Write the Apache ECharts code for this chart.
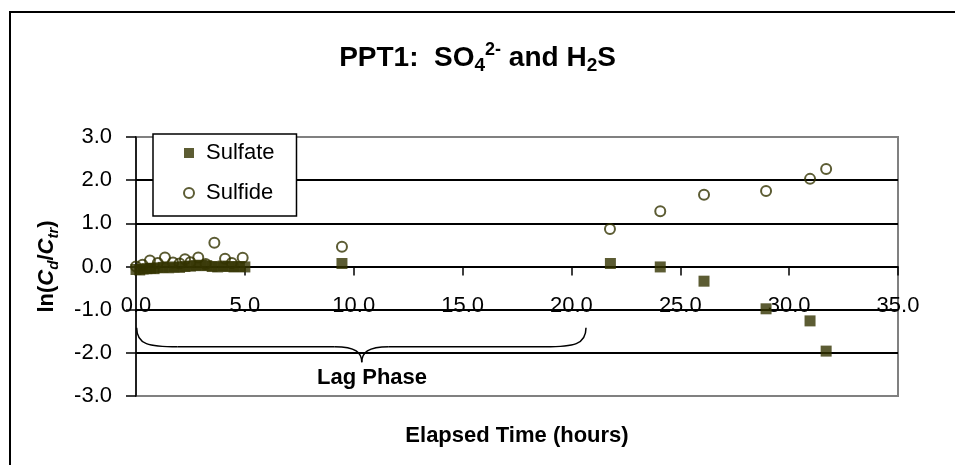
<!DOCTYPE html>
<html>
<head>
<meta charset="utf-8">
<title>PPT1: SO4 and H2S</title>
<script src="https://cdn.jsdelivr.net/npm/echarts@6/dist/echarts.min.js"></script>
<style>
  html, body { margin: 0; padding: 0; background: #fff; }
  #chart { width: 955px; height: 465px; }
</style>
</head>
<body>
<div id="chart"></div>
<script>
// Elapsed time (hours) and ln(Cd/Ctr) for sulfate
const sulfateTime = [0.0, 0.17, 0.33, 0.5, 0.67, 0.83, 1.0, 1.25, 1.5, 1.75, 2.0, 2.25, 2.5, 2.75, 3.0, 3.25, 3.5, 3.75, 4.0, 4.25, 4.5, 4.75, 5.0,
                     9.46, 21.79, 24.08, 26.09, 28.94, 30.96, 31.70];
const sulfateValue = [-0.07, -0.08, -0.06, -0.05, -0.04, -0.05, -0.03, -0.02, -0.03, -0.01, -0.02, 0.0, 0.01, 0.02, 0.03, 0.02, 0.0, -0.01, 0.01, 0.0, -0.01, 0.0, -0.01,
                      0.07, 0.07, -0.01, -0.34, -0.98, -1.26, -1.96];

// Elapsed time (hours) and ln(Cd/Ctr) for sulfide
const sulfideTime = [0.0, 0.3, 0.64, 1.0, 1.33, 1.7, 2.0, 2.25, 2.5, 2.86, 3.2, 3.6, 4.09, 4.4, 4.9,
                     9.46, 21.77, 24.08, 26.09, 28.94, 30.96, 31.70];
const sulfideValue = [0.0, 0.04, 0.14, 0.08, 0.21, 0.09, 0.07, 0.17, 0.1, 0.21, 0.06, 0.55, 0.18, 0.08, 0.2,
                      0.46, 0.87, 1.28, 1.66, 1.75, 2.03, 2.26];

// Lag-phase brace: start, tip and end hours; top, shoulder and tip levels
const braceHours = [0.03, 10.37, 20.67];
const braceLevels = [-1.42, -1.86, -2.22];
const lagLabelAt = [10.84, -2.58];

const FONT = '"Liberation Sans", Arial, sans-serif';
const INK = '#333300';

const zip = (xs, ys) => xs.map((x, i) => [x, ys[i]]);

const chart = echarts.init(document.getElementById('chart'), null, { renderer: 'canvas' });

chart.setOption({
  animation: false,
  backgroundColor: '#fff',
  textStyle: { fontFamily: FONT },
  title: {
    left: 'center',
    top: 36,
    text: '{b|PPT1:  SO}{sub|4}{sup|2-}{b| and H}{sub|2}{b|S}',
    textStyle: {
      rich: {
        b: { fontFamily: FONT, fontWeight: 'bold', fontSize: 28, lineHeight: 34, color: '#000' },
        sub: { fontFamily: FONT, fontWeight: 'bold', fontSize: 19, lineHeight: 14, verticalAlign: 'bottom', color: '#000' },
        sup: { fontFamily: FONT, fontWeight: 'bold', fontSize: 18, lineHeight: 16, verticalAlign: 'top', color: '#000' }
      }
    }
  },
  legend: {
    data: ['Sulfate', 'Sulfide'],
    orient: 'vertical',
    left: 153,
    top: 134,
    backgroundColor: '#fff',
    borderColor: '#000',
    borderWidth: 1.5,
    borderRadius: 0,
    padding: [7, 22, 11, 30],
    itemWidth: 10,
    itemHeight: 10,
    itemGap: 16,
    textStyle: { fontFamily: FONT, fontSize: 22, color: '#000', lineHeight: 24, padding: [0, 0, 0, 7] }
  },
  grid: {
    left: 136,
    right: 57,
    top: 137,
    bottom: 69,
    containLabel: false,
    outerBoundsMode: 'none',
    show: true,
    borderColor: '#808080',
    borderWidth: 2,
    backgroundColor: 'transparent'
  },
  xAxis: {
    type: 'value',
    min: 0,
    max: 35,
    interval: 5,
    name: 'Elapsed Time (hours)',
    nameLocation: 'middle',
    nameGap: 29,
    nameTextStyle: { fontFamily: FONT, fontWeight: 'bold', fontSize: 22, color: '#000' },
    axisLine: { onZero: true, lineStyle: { color: '#000', width: 1.5 } },
    axisTick: { show: true, length: 9, lineStyle: { color: '#000', width: 1.5 } },
    // tick labels sit just above the -1.0 gridline, below the zero line
    axisLabel: { margin: -101, fontFamily: FONT, fontSize: 22, color: '#000', formatter: v => v.toFixed(1) },
    splitLine: { show: false }
  },
  yAxis: {
    type: 'value',
    min: -3,
    max: 3,
    interval: 1,
    name: '{b|ln(}{i|C}{si|d}{b|/}{i|C}{si|tr}{b|)}',
    nameLocation: 'middle',
    nameRotate: 90,
    nameGap: 75,
    nameTextStyle: {
      rich: {
        b: { fontFamily: FONT, fontWeight: 'bold', fontSize: 22, lineHeight: 28, color: '#000' },
        i: { fontFamily: FONT, fontWeight: 'bold', fontStyle: 'italic', fontSize: 22, lineHeight: 28, color: '#000' },
        si: { fontFamily: FONT, fontWeight: 'bold', fontStyle: 'italic', fontSize: 15, lineHeight: 12, verticalAlign: 'bottom', color: '#000' }
      }
    },
    axisLine: { show: true, lineStyle: { color: '#000', width: 1.5 } },
    axisTick: { show: true, length: 10, lineStyle: { color: '#000', width: 1.5 } },
    axisLabel: { margin: 24, fontFamily: FONT, fontSize: 22, color: '#000', formatter: v => v.toFixed(1) },
    splitLine: {
      show: true,
      lineStyle: { color: ['#808080', '#000', '#000', '#000', '#000', '#000', '#808080'], width: 2 }
    }
  },
  series: [
    {
      name: 'Sulfate',
      type: 'scatter',
      symbol: 'rect',
      symbolSize: 11,
      itemStyle: { color: INK },
      data: zip(sulfateTime, sulfateValue),
      z: 3
    },
    {
      name: 'Sulfide',
      type: 'scatter',
      symbol: 'circle',
      symbolSize: 10,
      itemStyle: { color: 'rgba(255,255,255,0)', borderColor: INK, borderWidth: 2 },
      data: zip(sulfideTime, sulfideValue),
      z: 4
    },
    {
      name: 'lag',
      type: 'custom',
      silent: true,
      coordinateSystem: 'cartesian2d',
      encode: { x: [0, 1, 2], y: [3, 4, 5] },
      data: [[braceHours[0], braceHours[1], braceHours[2], braceLevels[0], braceLevels[1], braceLevels[2]]],
      renderItem: function (params, api) {
        const L = api.coord([api.value(0), api.value(3)]);
        const S = api.coord([api.value(1), api.value(4)]);
        const T = api.coord([api.value(1), api.value(5)]);
        const R = api.coord([api.value(2), api.value(3)]);
        const hy = S[1];
        const r = 41, rt = 27;
        const st = { stroke: '#000', lineWidth: 1.5, fill: null };
        const lab = api.coord(lagLabelAt);
        return {
          type: 'group',
          children: [
            { type: 'bezierCurve', shape: { x1: L[0], y1: L[1], x2: L[0] + r, y2: hy, cpx1: L[0], cpy1: hy - 2, cpx2: L[0] + r * 0.3, cpy2: hy }, style: st },
            { type: 'line', shape: { x1: L[0] + r, y1: hy, x2: T[0] - rt, y2: hy }, style: st },
            { type: 'bezierCurve', shape: { x1: T[0] - rt, y1: hy, x2: T[0], y2: T[1], cpx1: T[0] - 6, cpy1: hy, cpx2: T[0], cpy2: hy + 6 }, style: st },
            { type: 'bezierCurve', shape: { x1: T[0], y1: T[1], x2: T[0] + rt, y2: hy, cpx1: T[0], cpy1: hy + 6, cpx2: T[0] + 6, cpy2: hy }, style: st },
            { type: 'line', shape: { x1: T[0] + rt, y1: hy, x2: R[0] - r, y2: hy }, style: st },
            { type: 'bezierCurve', shape: { x1: R[0] - r, y1: hy, x2: R[0], y2: R[1], cpx1: R[0] - r * 0.3, cpy1: hy, cpx2: R[0], cpy2: hy - 2 }, style: st },
            { type: 'text', x: lab[0], y: lab[1], style: { text: 'Lag Phase', fill: '#000', font: 'bold 22px ' + FONT, textAlign: 'center', textVerticalAlign: 'middle' } }
          ]
        };
      },
      z: 2
    }
  ],
  graphic: [
    {
      type: 'rect',
      shape: { x: 10, y: 12, width: 960, height: 470 },
      style: { fill: null, stroke: '#000', lineWidth: 2 },
      silent: true,
      z: 100
    }
  ]
});
</script>
</body>
</html>
